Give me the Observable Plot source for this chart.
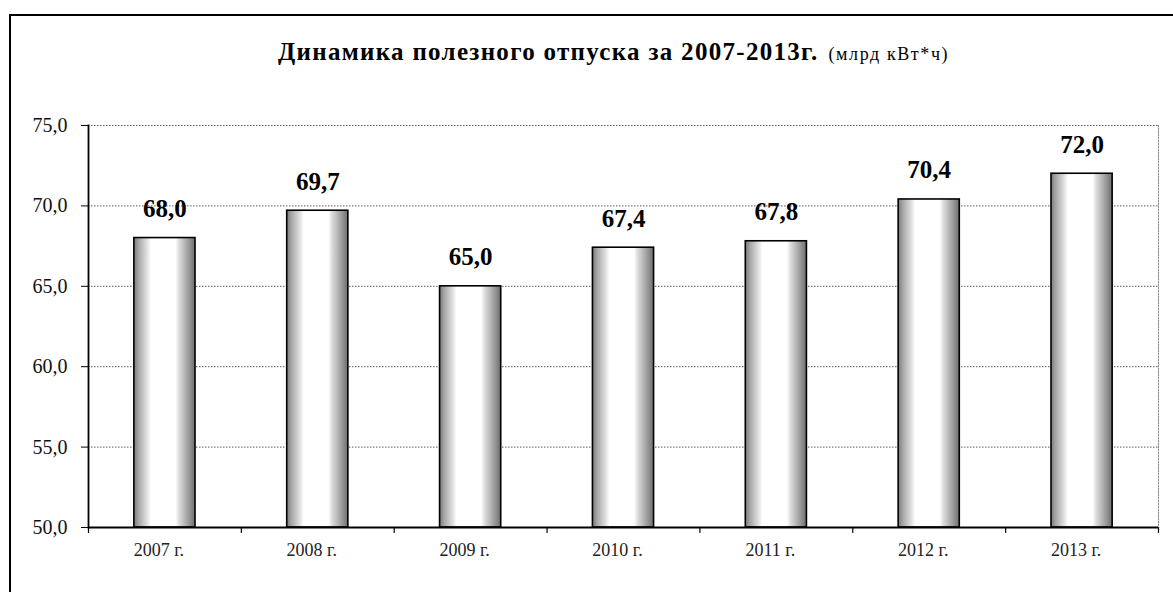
<!DOCTYPE html>
<html>
<head>
<meta charset="utf-8">
<script src="https://cdn.jsdelivr.net/npm/d3@7"></script>
<script src="https://cdn.jsdelivr.net/npm/@observablehq/plot@0.6"></script>
<style>
  html, body { margin: 0; padding: 0; background: #fff; }
  #wrap { position: relative; width: 1173px; height: 592px; overflow: hidden; font-family: "Liberation Serif", "Times New Roman", "DejaVu Serif", serif; }
  #frame { position: absolute; left: 9px; top: 14px; width: 1200px; height: 620px; border: 2px solid #000; box-sizing: border-box; }
  #title { position: absolute; left: 278px; top: 38px; white-space: nowrap; color: #000; font-family: "Liberation Serif", "Times New Roman", serif; }
  #title b { font-size: 25px; font-weight: bold; letter-spacing: 1.3px; }
  #title span { font-size: 18px; letter-spacing: 1.6px; margin-left: 6px; }
  #chart { position: absolute; left: 0; top: 0; }
</style>
</head>
<body>
<div id="wrap">
  <div id="frame"></div>
  <div id="chart"></div>
  <div id="title"><b>Динамика полезного отпуска за 2007-2013г.</b> <span>(млрд кВт*ч)</span></div>
</div>
<script>
const years = ["2007 г.", "2008 г.", "2009 г.", "2010 г.", "2011 г.", "2012 г.", "2013 г."];
const values = [68.0, 69.7, 65.0, 67.4, 67.8, 70.4, 72.0];
const yTicks = [50, 55, 60, 65, 70, 75];
const yDomain = [50, 75];

const data = years.map((year, i) => ({year, value: values[i]}));
const fmt = d => d.toFixed(1).replace(".", ",");

const W = 1173, H = 592, mL = 88, mR = 15, mT = 125, mB = 65;
const step = (W - mL - mR) / years.length;

const downTick = {draw(context, l) { context.moveTo(0, 0); context.lineTo(0, l); }};

const chart = Plot.plot({
  width: W, height: H,
  marginLeft: mL, marginRight: mR, marginTop: mT, marginBottom: mB,
  style: {fontFamily: "'Liberation Serif', 'Times New Roman', serif", background: "transparent", color: "#000"},
  x: {type: "band", domain: years, paddingInner: 0.6, paddingOuter: 0.3, round: false, label: null},
  y: {type: "linear", domain: yDomain, label: null},
  marks: [
    Plot.gridY(yTicks.slice(1), {stroke: "#000", strokeOpacity: 0.65, strokeDasharray: "1.5,1.5", strokeWidth: 1}),
    Plot.frame({anchor: "right", stroke: "#000", strokeOpacity: 0.45, strokeDasharray: "1.5,1.5"}),
    Plot.barY(data, {x: "year", y1: () => yDomain[0], y2: "value", fill: "url(#cyl)", stroke: "#000", strokeWidth: 1.6}),
    Plot.text(data, {x: "year", y: "value", text: d => fmt(d.value), dy: -29, fontWeight: "bold", fontSize: 25, fill: "#000"}),
    Plot.ruleY([yDomain[0]], {stroke: "#000", strokeWidth: 1.8}),
    Plot.frame({anchor: "left", stroke: "#000", strokeWidth: 1.8}),
    Plot.vector(years, {x: d => d, y: () => yDomain[0], dx: -step / 2, length: 5, rotate: 0, anchor: "start", shape: downTick, stroke: "#000", strokeWidth: 1.2}),
    Plot.vector([years[years.length - 1]], {x: d => d, y: () => yDomain[0], dx: step / 2, length: 5, rotate: 0, anchor: "start", shape: downTick, stroke: "#000", strokeWidth: 1.2}),
    Plot.axisY({ticks: yTicks, tickFormat: fmt, tickSize: 7, tickPadding: 14, fontSize: 20, stroke: "#000", fill: "#111"}),
    Plot.axisX({tickSize: 0, tickPadding: 16, fontSize: 18, fill: "#222", dx: -6})
  ]
});

// cylinder-like horizontal gradient for the bars
const ns = "http://www.w3.org/2000/svg";
const defs = document.createElementNS(ns, "defs");
defs.innerHTML = `
  <linearGradient id="cyl" x1="0" y1="0" x2="1" y2="0">
    <stop offset="0" stop-color="#7a7a7a"/>
    <stop offset="0.08" stop-color="#a8a8a8"/>
    <stop offset="0.22" stop-color="#e2e2e2"/>
    <stop offset="0.28" stop-color="#ffffff"/>
    <stop offset="0.68" stop-color="#ffffff"/>
    <stop offset="0.74" stop-color="#dcdcdc"/>
    <stop offset="0.9" stop-color="#9a9a9a"/>
    <stop offset="1" stop-color="#6e6e6e"/>
  </linearGradient>`;
chart.insertBefore(defs, chart.firstChild);
document.getElementById("chart").appendChild(chart);
</script>
</body>
</html>
